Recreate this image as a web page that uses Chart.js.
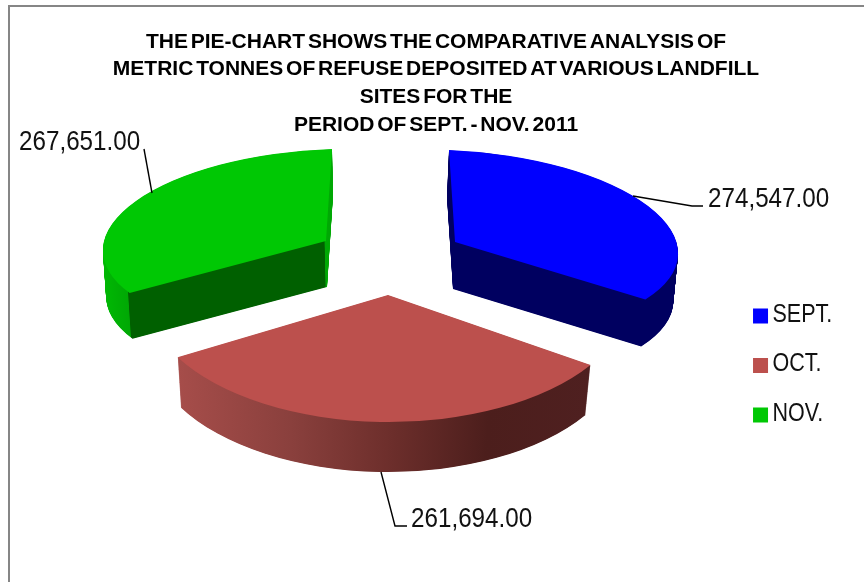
<!DOCTYPE html>
<html>
<head>
<meta charset="utf-8">
<style>html,body{margin:0;padding:0;background:#fff}canvas{display:block}</style>
<script src="https://cdn.jsdelivr.net/npm/chart.js@4/dist/chart.umd.js"></script>
</head>
<body>
<canvas id="c" width="864" height="582"></canvas>
<script>
const categories = ['SEPT.', 'OCT.', 'NOV.'];
const tonnes = [274547, 261694, 267651];
const titleLines = [
  'THE PIE-CHART SHOWS THE COMPARATIVE ANALYSIS OF',
  'METRIC TONNES OF REFUSE DEPOSITED AT VARIOUS LANDFILL',
  'SITES FOR THE',
  'PERIOD OF SEPT. - NOV. 2011'
];
const topColors = ['#0000ff', '#bc504d', '#00c804'];

/* Tilted-disc look: how each slice's unit circle is projected on the page. */
const projection = [
  {A:[455,242], U:[223,9],  V:[6,92],   D:[-2,47], taper:0.012,
   rim:[[-1,'#000060'],[1,'#000060']]},
  {A:[388,295], U:[242,1],  V:[-1,127], D:[-1,50], taper:0.02,
   rim:[[-0.87,'#a64d4a'],[-0.4,'#8a403d'],[0,'#6e2f2c'],[0.42,'#4c1e1c'],[0.85,'#4f2020']]},
  {A:[326,241], U:[223,-7], V:[-6,92],  D:[1,46],  taper:0.01,
   rim:[[-1,'#00b804'],[-0.877,'#00a804'],[-0.873,'#006000'],[-0.008,'#006000'],[-0.005,'#00a804'],[1,'#00a804']]}
];
const leaders = [
  {pts:[[633,196],[692,206],[703,206]], at:[708,207]},
  {pts:[[381,472],[395,526],[407,526]], at:[411,527]},
  {pts:[[152,193],[144,149]],           at:[19,150]}
];
const LABEL_FONT = '28.5px "Liberation Sans", sans-serif';
const LABEL_SQUEEZE = 0.85;
const LEGEND_SQUEEZE = 0.86;

const formatTonnes = v => v.toLocaleString('en-US', {minimumFractionDigits:2, maximumFractionDigits:2});

const frame = {
  id:'frame',
  beforeDraw(chart){
    const ctx = chart.ctx;
    ctx.save();
    ctx.fillStyle = '#fff';
    ctx.fillRect(0,0,chart.width,chart.height);
    ctx.fillStyle = '#868686';
    ctx.fillRect(8,5,chart.width-8,2);
    ctx.fillRect(8,5,2,chart.height-5);
    ctx.restore();
    ctx.wordSpacing = '-3px';
    /* legend text sits close to its swatch and is condensed */
    if(!chart.legend.$narrow){
      const legend = chart.legend, draw = legend.draw;
      legend.$narrow = true;
      legend.draw = function(){
        const native = ctx.fillText;
        ctx.fillText = function(text,x,y){
          ctx.save();
          ctx.translate(x-8,y-1);
          ctx.scale(LEGEND_SQUEEZE,1);
          native.call(ctx,text,0,0);
          ctx.restore();
        };
        draw.apply(this,arguments);
        delete ctx.fillText;
      };
    }
  },
  afterDraw(chart){ chart.ctx.wordSpacing = '0px'; }
};

const tilted = {
  id:'tilted',
  beforeDatasetDraw(chart, args){
    const ctx = chart.ctx;
    const arcs = args.meta.data;
    [0,2,1].forEach(i=>{
      const arc = arcs[i], p = projection[i];
      const R = arc.outerRadius, cx = arc.x, cy = arc.y;
      const a0 = p.U[0]/R, b0 = p.U[1]/R, c = p.V[0]/R, d = p.V[1]/R;
      const base = arc.options;
      const place = (s, ox, oy) => {
        const a = a0*s, b = b0*s;
        ctx.setTransform(a, b, c, d, p.A[0]+ox-a*cx-c*cy, p.A[1]+oy-b*cx-d*cy);
      };
      ctx.save();
      const g = ctx.createLinearGradient(cx-R,cy,cx+R,cy);
      p.rim.forEach(([u,col])=>g.addColorStop((u+1)/2,col));
      arc.options = Object.assign({},base,{backgroundColor:g,borderWidth:0});
      const steps = Math.ceil(Math.hypot(p.D[0],p.D[1]))*2;
      for(let k=steps;k>=1;k--){
        const t = k/steps;
        place(1-p.taper*t, p.D[0]*t, p.D[1]*t);
        arc.draw(ctx);
      }
      arc.options = Object.assign({},base,{backgroundColor:topColors[i],borderWidth:0});
      place(1,0,0);
      arc.draw(ctx);
      arc.options = base;
      ctx.restore();
    });
    return false;
  },
  afterDatasetsDraw(chart){
    const ctx = chart.ctx;
    ctx.save();
    ctx.wordSpacing = '0px';
    ctx.strokeStyle = '#000';
    ctx.lineWidth = 1.4;
    ctx.fillStyle = '#111';
    ctx.font = LABEL_FONT;
    ctx.textAlign = 'left';
    ctx.textBaseline = 'alphabetic';
    leaders.forEach((l,i)=>{
      ctx.beginPath();
      l.pts.forEach((pt,k)=> k ? ctx.lineTo(pt[0],pt[1]) : ctx.moveTo(pt[0],pt[1]));
      ctx.stroke();
      ctx.save();
      ctx.translate(l.at[0],l.at[1]);
      ctx.scale(LABEL_SQUEEZE,1);
      ctx.fillText(formatTonnes(tonnes[i]),0,0);
      ctx.restore();
    });
    ctx.restore();
  }
};

new Chart(document.getElementById('c'), {
  type:'pie',
  data:{
    labels:categories,
    datasets:[{data:tonnes, backgroundColor:topColors, borderWidth:0}]
  },
  options:{
    responsive:false,
    animation:false,
    layout:{padding:{top:28,right:4,left:12,bottom:130}},
    plugins:{
      tooltip:{enabled:false},
      title:{
        display:true,
        text:titleLines,
        color:'#000',
        font:{family:'"Liberation Sans", sans-serif',size:21,weight:'bold',lineHeight:1.32},
        padding:{top:0,bottom:0}
      },
      legend:{
        position:'right',
        align:'end',
        labels:{
          boxWidth:15,boxHeight:15,padding:24.5,color:'#111',
          font:{family:'"Liberation Sans", sans-serif',size:25}
        }
      }
    }
  },
  plugins:[frame,tilted]
});
</script>
</body>
</html>
